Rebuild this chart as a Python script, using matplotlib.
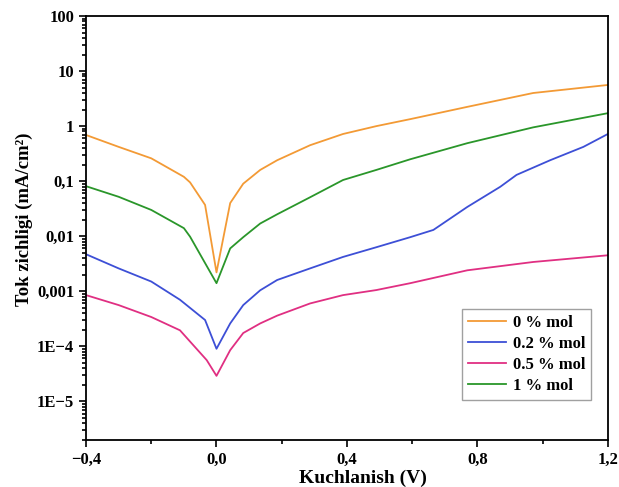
import numpy as np
import matplotlib
matplotlib.use("Agg")
import matplotlib.pyplot as plt
from matplotlib.ticker import FixedLocator, FixedFormatter, LogLocator, NullFormatter

plt.rcParams['font.family'] = ['Liberation Serif', 'DejaVu Serif']
plt.rcParams['font.weight'] = 'bold'

# voltage (V) and current density (mA/cm2)
v_0 = [-0.4, -0.3, -0.2, -0.1, -0.081, -0.035, 0.0, 0.042, 0.082, 0.134, 0.186,
       0.287, 0.388, 0.49, 0.594, 0.769, 0.971, 1.2]
j_0 = [0.69, 0.42, 0.26, 0.12, 0.095, 0.037, 0.0022, 0.04, 0.09, 0.16, 0.24,
       0.45, 0.72, 1.0, 1.34, 2.24, 4.0, 5.6]

v_1 = [-0.4, -0.3, -0.2, -0.1, -0.081, 0.0, 0.042, 0.082, 0.134, 0.186,
       0.287, 0.388, 0.49, 0.594, 0.769, 0.971, 1.2]
j_1 = [0.081, 0.052, 0.03, 0.014, 0.0098, 0.0014, 0.006, 0.0096, 0.017, 0.025,
       0.051, 0.105, 0.16, 0.25, 0.49, 0.95, 1.72]

v_02 = [-0.4, -0.3, -0.2, -0.112, -0.035, 0.0, 0.042, 0.082, 0.134, 0.186,
        0.287, 0.388, 0.49, 0.594, 0.665, 0.769, 0.87, 0.92, 1.023, 1.125, 1.2]
j_02 = [0.0047, 0.0026, 0.0015, 0.0007, 0.0003, 9.0e-5, 0.00026, 0.00056, 0.00104,
        0.0016, 0.0026, 0.0042, 0.0063, 0.0096, 0.013, 0.034, 0.079, 0.13,
        0.24, 0.42, 0.72]

v_05 = [-0.4, -0.3, -0.2, -0.112, -0.03, 0.0, 0.042, 0.082, 0.134, 0.186,
        0.287, 0.388, 0.49, 0.594, 0.769, 0.971, 1.2]
j_05 = [0.00085, 0.00056, 0.00034, 0.000195, 5.6e-5, 2.9e-5, 8.5e-5, 0.000174,
        0.00026, 0.00036, 0.0006, 0.00085, 0.00105, 0.0014, 0.0024, 0.0034, 0.0045]

labels = ['0 % mol', '0.2 % mol', '0.5 % mol', '1 % mol']
colors = ['#f39a35', '#3d4fd6', '#e02f82', '#2a962a']

y_ticks = [1e-5, 1e-4, 1e-3, 1e-2, 1e-1, 1, 10, 100]
y_ticklabels = ['1E\u22125', '1E\u22124', '0,001', '0,01', '0,1', '1', '10', '100']
x_ticks = [-0.4, 0.0, 0.4, 0.8, 1.2]
x_ticklabels = ['\u22120,4', '0,0', '0,4', '0,8', '1,2']

fig = plt.figure(figsize=(6.19, 4.87), dpi=100)
ax = fig.add_axes([0.139, 0.097, 0.843, 0.870])

ax.plot(v_0, j_0, color=colors[0], lw=1.3, label=labels[0])
ax.plot(v_02, j_02, color=colors[1], lw=1.3, label=labels[1])
ax.plot(v_05, j_05, color=colors[2], lw=1.3, label=labels[2])
ax.plot(v_1, j_1, color=colors[3], lw=1.3, label=labels[3])

ax.set_yscale('log')
ax.set_xlim(-0.4, 1.2)
ax.set_ylim(2e-6, 100)

ax.yaxis.set_major_locator(FixedLocator(y_ticks))
ax.yaxis.set_major_formatter(FixedFormatter(y_ticklabels))
ax.yaxis.set_minor_locator(LogLocator(base=10, subs=np.arange(2, 10)))
ax.yaxis.set_minor_formatter(NullFormatter())
ax.xaxis.set_major_locator(FixedLocator(x_ticks))
ax.xaxis.set_major_formatter(FixedFormatter(x_ticklabels))
ax.xaxis.set_minor_locator(FixedLocator([-0.2, 0.2, 0.6, 1.0]))

ax.tick_params(which='both', direction='out', top=False, right=False,
               labelsize=12, width=1.2)
ax.tick_params(which='major', length=5)
ax.tick_params(which='minor', length=3)
for s in ax.spines.values():
    s.set_linewidth(1.3)
for t in ax.get_xticklabels() + ax.get_yticklabels():
    t.set_fontweight('bold')

ax.set_xlabel('Kuchlanish (V)', fontsize=14, fontweight='bold')
ax.set_ylabel('Tok zichligi (mA/cm\u00b2)', fontsize=13.5, fontweight='bold')
ax.xaxis.set_label_coords(0.53, -0.07)
ax.yaxis.set_label_coords(-0.102, 0.52)

leg = ax.legend(loc='lower left', bbox_to_anchor=(0.72, 0.094), fancybox=False,
                edgecolor='#888888', fontsize=12, handlelength=2.3,
                handletextpad=0.4, borderpad=0.35, labelspacing=0.3,
                borderaxespad=0)
leg.get_frame().set_linewidth(1.0)

fig.savefig('out.png', dpi=100)
